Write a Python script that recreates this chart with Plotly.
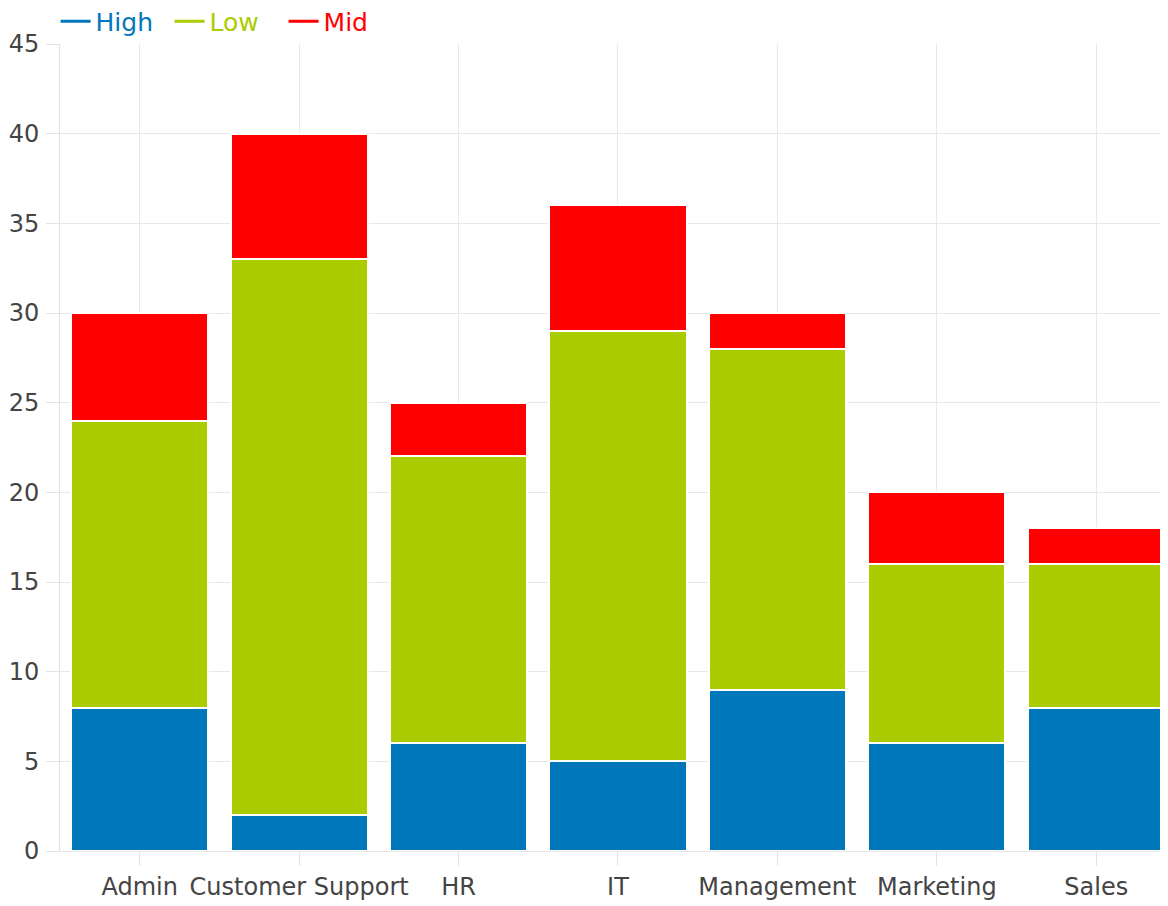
import plotly.graph_objects as go

categories = ["Admin", "Customer Support", "HR", "IT", "Management", "Marketing", "Sales"]
high = [8, 2, 6, 5, 9, 6, 8]
low = [16, 31, 16, 24, 19, 10, 8]
mid = [6, 7, 3, 7, 2, 4, 2]
series = [("High", high, "#0077bb"), ("Low", low, "#aacc00"), ("Mid", mid, "#ff0000")]

fig = go.Figure()
for name, vals, col in series:
    fig.add_trace(go.Bar(x=categories, y=vals, name=name, marker=dict(color=col, line=dict(color="white", width=2)),
                         showlegend=False, width=0.86))
for name, vals, col in series:
    fig.add_trace(go.Scatter(x=[None], y=[None], mode="lines", line=dict(color=col, width=3),
                             name=f"<span style='color:{col}'>{name}</span>"))

fig.update_layout(
    barmode="stack",
    width=1168, height=906,
    margin=dict(l=52, r=8, t=36, b=63, autoexpand=False),
    plot_bgcolor="white", paper_bgcolor="white",
    font=dict(family="DejaVu Sans", size=20, color="#444"),
    legend=dict(orientation="h", x=-0.004, y=1.028, xref="paper", yref="paper",
                xanchor="left", yanchor="middle", traceorder="normal",
                font=dict(size=25), itemwidth=30, tracegroupgap=0,
                entrywidth=69, entrywidthmode="pixels"),
    xaxis=dict(range=[-0.5, 6.45], showgrid=True, gridcolor="#e8e8e8", ticks="outside", ticklen=14,
               tickcolor="#e2e2e2", showline=True, linecolor="#e8e8e8", tickfont=dict(size=24),
               automargin=False),
    yaxis=dict(range=[0, 45], dtick=5, showgrid=True, gridcolor="#e8e8e8", zeroline=False,
               showline=True, linecolor="#e2e2e2", ticks="outside", ticklen=13, tickcolor="#e2e2e2",
               tickfont=dict(size=24), ticklabelstandoff=2, automargin=False),
    bargap=0.14,
)
fig.write_html("out.html")
